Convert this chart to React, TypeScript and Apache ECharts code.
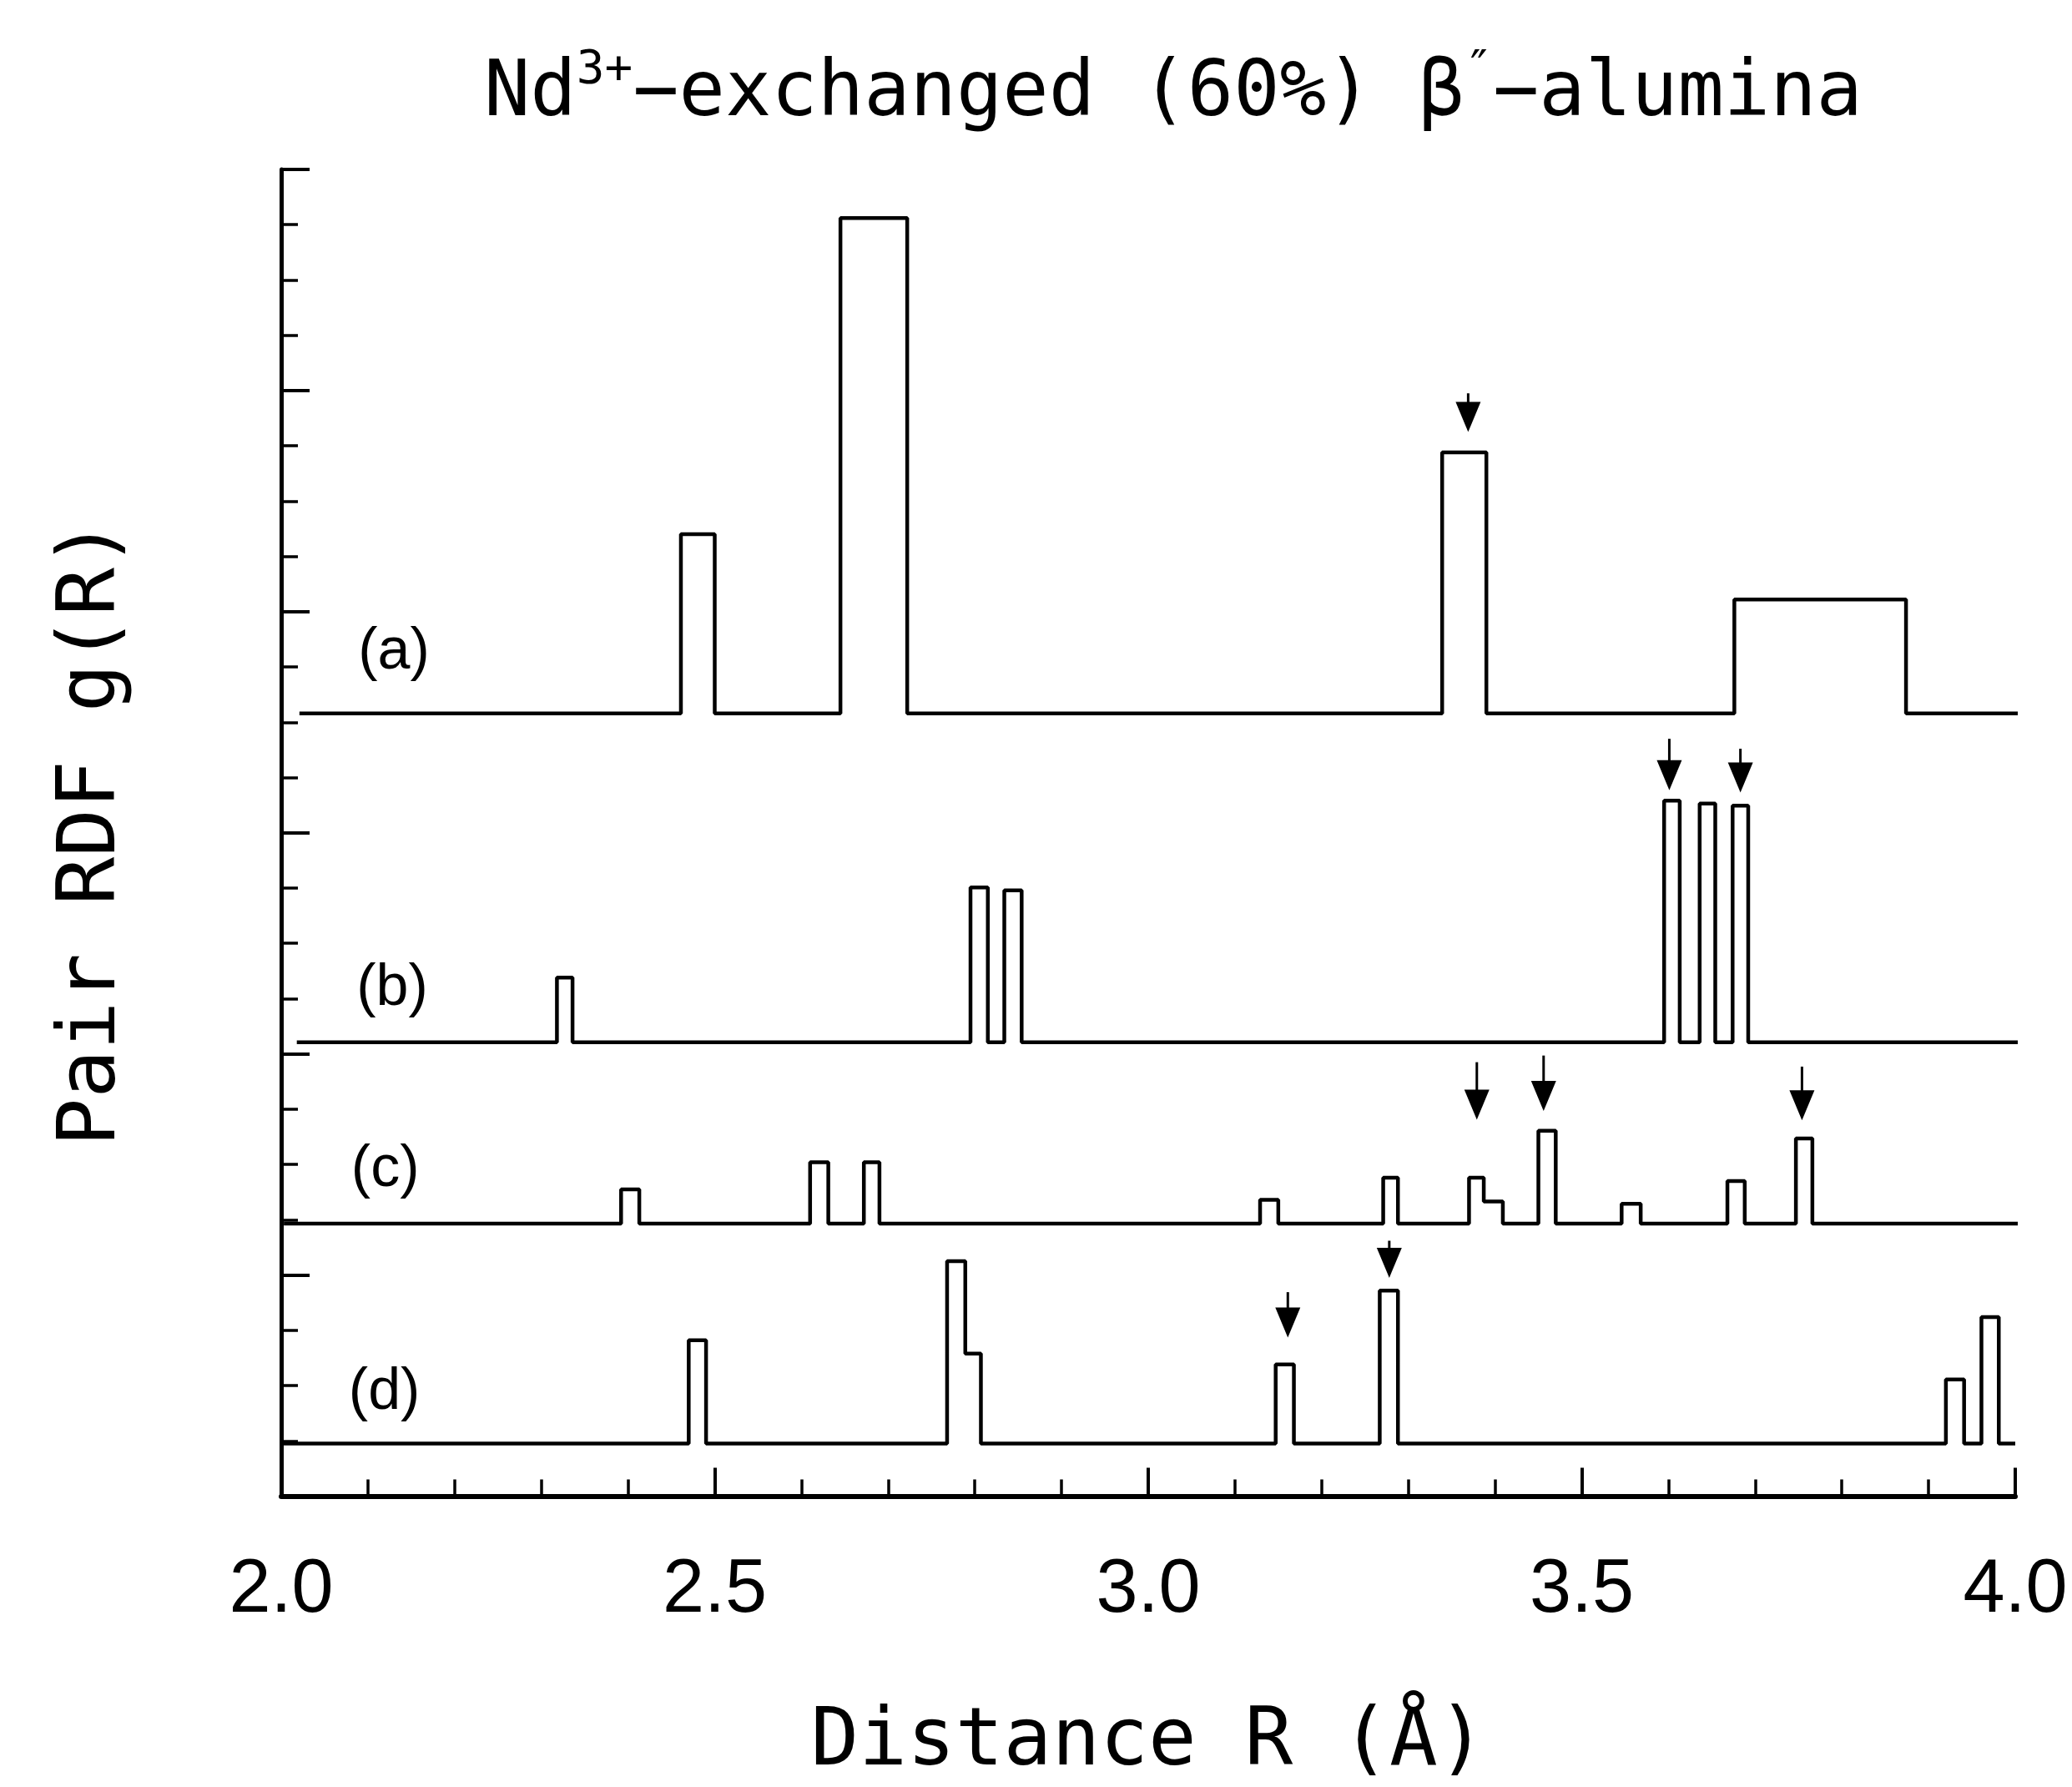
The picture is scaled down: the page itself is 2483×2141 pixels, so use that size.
import React, { useEffect, useRef } from 'react';
import * as echarts from 'echarts';

// ---- data ----
const xTickLabels = ['2.0', '2.5', '3.0', '3.5', '4.0'];

// each peak: [R left, R right, height]
const baseA = 14.16;
const spanA = [2.021, 4.008];
const peaksA = [
  [2.461, 2.5, 17.4],
  [2.645, 2.722, 23.12],
  [3.339, 3.39, 18.88],
  [3.676, 3.874, 16.22],
];

const baseB = 8.21;
const spanB = [2.018, 4.006];
const peaksB = [
  [2.318, 2.336, 9.38],
  [2.795, 2.815, 11.01],
  [2.834, 2.854, 10.96],
  [3.595, 3.613, 12.58],
  [3.636, 3.654, 12.53],
  [3.674, 3.692, 12.49],
];

const baseC = 4.93;
const spanC = [2.003, 4.004];
const peaksC = [
  [2.392, 2.413, 5.55],
  [2.61, 2.631, 6.04],
  [2.672, 2.69, 6.04],
  [3.129, 3.15, 5.36],
  [3.271, 3.288, 5.76],
  [3.37, 3.387, 5.76],
  [3.387, 3.409, 5.33],
  [3.45, 3.47, 6.61],
  [3.546, 3.568, 5.29],
  [3.668, 3.688, 5.7],
  [3.747, 3.766, 6.47],
];

const baseD = 0.95;
const spanD = [2.0, 4.0];
const peaksD = [
  [2.47, 2.49, 2.82],
  [2.768, 2.789, 4.25],
  [2.789, 2.807, 2.58],
  [3.147, 3.168, 2.38],
  [3.267, 3.288, 3.72],
  [3.92, 3.941, 2.11],
  [3.961, 3.981, 3.24],
];

// arrows: [R, top of stem, tip]
const arrowsA = [[3.369, 19.95, 19.25]];
const arrowsB = [
  [3.601, 13.7, 12.77],
  [3.683, 13.52, 12.73],
];
const arrowsC = [
  [3.379, 7.85, 6.81],
  [3.456, 7.97, 6.97],
  [3.754, 7.77, 6.8],
];
const arrowsD = [
  [3.161, 3.69, 2.87],
  [3.278, 4.62, 3.95],
];

const panelLabels = ['(a)', '(b)', '(c)', '(d)'];
const panelLabelX = [2.13, 2.128, 2.12, 2.119];
const panelLabelY = [15.33, 9.25, 5.97, 1.94];

// ---- helpers ----
function buildSteps(span: number[], base: number, peaks: number[][]) {
  const pts: number[][] = [[span[0], base]];
  peaks.forEach((p, i) => {
    const prev = peaks[i - 1];
    const next = peaks[i + 1];
    if (!prev || Math.abs(prev[1] - p[0]) > 1e-9) pts.push([p[0], base]);
    pts.push([p[0], p[2]]);
    pts.push([p[1], p[2]]);
    if (!next || Math.abs(next[0] - p[1]) > 1e-9) pts.push([p[1], base]);
  });
  pts.push([span[1], base]);
  return pts;
}

const MONO = '"DejaVu Sans Mono", monospace';
const SANS = '"Liberation Sans Narrow", "Liberation Sans", Arial, sans-serif';

export default function App() {
  const ref = useRef<HTMLDivElement>(null);

  useEffect(() => {
    if (!ref.current) return;
    const chart = echarts.init(ref.current, undefined, { renderer: 'svg' });

    const lineSeries = (name: string, span: number[], base: number, peaks: number[][]) => ({
      name,
      type: 'line',
      data: buildSteps(span, base, peaks),
      showSymbol: false,
      symbol: 'none',
      clip: false,
      silent: true,
      lineStyle: { color: '#000', width: 4.5 },
      z: 3,
    });

    const allArrows = [...arrowsA, ...arrowsB, ...arrowsC, ...arrowsD];

    const option: any = {
      animation: false,
      backgroundColor: '#fff',
      title: {
        left: 1401,
        top: 46,
        textAlign: 'center',
        text: '{n|Nd}{s|3+}{n|−exchanged (60%) β}{s|″}{n|−alumina}',
        textStyle: {
          fontWeight: 'normal',
          rich: {
            n: { fontFamily: MONO, fontSize: 92, fontWeight: 'normal', color: '#000', lineHeight: 110 },
            s: { fontFamily: MONO, fontSize: 56, fontWeight: 'normal', color: '#000', verticalAlign: 'top' },
          },
        },
      },
      grid: { left: 337, right: 68, top: 203, bottom: 348.5, containLabel: false },
      xAxis: {
        type: 'value',
        min: 2,
        max: 4,
        interval: 0.5,
        name: 'Distance R (Å)',
        nameLocation: 'middle',
        nameGap: 240,
        nameTextStyle: { fontFamily: MONO, fontSize: 96, color: '#000' },
        axisLine: { show: true, lineStyle: { color: '#000', width: 6 } },
        axisTick: { show: true, inside: true, length: 34, lineStyle: { color: '#000', width: 4 } },
        minorTick: { show: true, splitNumber: 5, length: 20, lineStyle: { color: '#000', width: 3.5 } },
        axisLabel: {
          show: true,
          margin: 62,
          fontFamily: SANS,
          fontSize: 90,
          color: '#000',
          formatter: (v: number) => xTickLabels[Math.round((v - 2) / 0.5)] ?? '',
        },
        splitLine: { show: false },
        minorSplitLine: { show: false },
      },
      yAxis: {
        type: 'value',
        min: 0,
        max: 24,
        interval: 4,
        name: 'Pair RDF g(R)',
        nameLocation: 'middle',
        nameGap: 185,
        nameTextStyle: { fontFamily: MONO, fontSize: 96, color: '#000' },
        axisLine: { show: true, lineStyle: { color: '#000', width: 5 } },
        axisTick: { show: true, inside: true, length: 34, lineStyle: { color: '#000', width: 4 } },
        minorTick: { show: true, splitNumber: 4, length: 20, lineStyle: { color: '#000', width: 3.5 } },
        axisLabel: { show: false },
        splitLine: { show: false },
        minorSplitLine: { show: false },
      },
      series: [
        lineSeries('a', spanA, baseA, peaksA),
        lineSeries('b', spanB, baseB, peaksB),
        lineSeries('c', spanC, baseC, peaksC),
        lineSeries('d', spanD, baseD, peaksD),
        {
          name: 'arrows',
          type: 'custom',
          silent: true,
          clip: false,
          z: 4,
          encode: { x: 0, y: 1 },
          data: allArrows,
          renderItem: (params: any, api: any) => {
            const x = api.value(0);
            const pTop = api.coord([x, api.value(1)]);
            const pTip = api.coord([x, api.value(2)]);
            const headH = 36;
            const headW = 30;
            return {
              type: 'group',
              children: [
                {
                  type: 'line',
                  shape: { x1: pTop[0], y1: pTop[1], x2: pTip[0], y2: pTip[1] - headH + 4 },
                  style: { stroke: '#000', lineWidth: 3 },
                },
                {
                  type: 'polygon',
                  shape: {
                    points: [
                      [pTip[0] - headW / 2, pTip[1] - headH],
                      [pTip[0] + headW / 2, pTip[1] - headH],
                      [pTip[0], pTip[1]],
                    ],
                  },
                  style: { fill: '#000' },
                },
              ],
            };
          },
        },
        {
          name: 'panel labels',
          type: 'scatter',
          silent: true,
          symbol: 'circle',
          symbolSize: 1,
          itemStyle: { color: 'rgba(0,0,0,0)', opacity: 1 },
          data: panelLabels.map((t, i) => [panelLabelX[i], panelLabelY[i], t]),
          label: {
            show: true,
            position: 'inside',
            formatter: (p: any) => p.data[2],
            fontFamily: '"Liberation Sans", Arial, sans-serif',
            fontSize: 70,
            color: '#000',
            opacity: 1,
          },
          z: 5,
        },
      ],
    };

    chart.setOption(option);
    return () => chart.dispose();
  }, []);

  return (
    <div
      ref={ref}
      style={{ position: 'fixed', left: 0, top: 0, width: '2483px', height: '2141px', background: '#fff' }}
    />
  );
}
